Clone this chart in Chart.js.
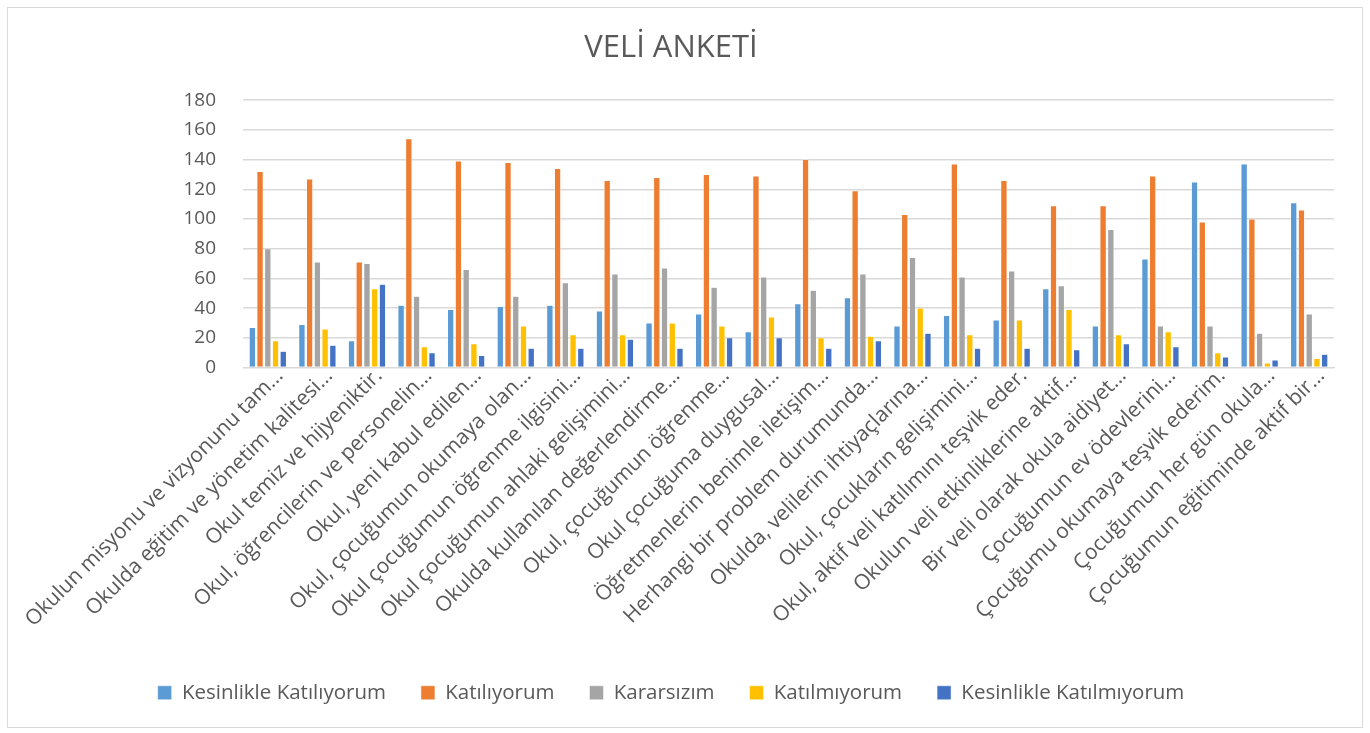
<!DOCTYPE html>
<html>
<head>
<meta charset="utf-8">
<script src="https://cdn.jsdelivr.net/npm/chart.js@4"></script>
<style>
  body { margin: 0; background: #fff; }
  #box { position: absolute; left: 7px; top: 7px; width: 1354px; height: 719px; border: 1px solid #d9d9d9; }
</style>
</head>
<body>
<div id="box"><canvas id="chart" width="1354" height="719"></canvas></div>
<script>
const categories = [
  "Okulun misyonu ve vizyonunu tam…",
  "Okulda eğitim ve yönetim kalitesi…",
  "Okul temiz ve hijyeniktir.",
  "Okul, öğrencilerin ve personelin…",
  "Okul, yeni kabul edilen…",
  "Okul, çocuğumun okumaya olan…",
  "Okul çocuğumun öğrenme ilgisini…",
  "Okul çocuğumun ahlaki gelişimini…",
  "Okulda kullanılan değerlendirme…",
  "Okul, çocuğumun öğrenme…",
  "Okul çocuğuma duygusal…",
  "Öğretmenlerin benimle iletişim…",
  "Herhangi bir problem durumunda…",
  "Okulda, velilerin ihtiyaçlarına…",
  "Okul, çocukların gelişimini…",
  "Okul, aktif veli katılımını teşvik eder.",
  "Okulun veli etkinliklerine aktif…",
  "Bir veli olarak okula aidiyet…",
  "Çocuğumun ev ödevlerini…",
  "Çocuğumu okumaya teşvik ederim.",
  "Çocuğumun her gün okula…",
  "Çocuğumun eğitiminde aktif bir…"
];

const kesinlikleKatiliyorum = [27, 29, 18, 42, 39, 41, 42, 38, 30, 36, 24, 43, 47, 28, 35, 32, 53, 28, 73, 125, 137, 111];
const katiliyorum = [132, 127, 71, 154, 139, 138, 134, 126, 128, 130, 129, 140, 119, 103, 137, 126, 109, 109, 129, 98, 100, 106];
const kararsizim = [80, 71, 70, 48, 66, 48, 57, 63, 67, 54, 61, 52, 63, 74, 61, 65, 55, 93, 28, 28, 23, 36];
const katilmiyorum = [18, 26, 53, 14, 16, 28, 22, 22, 30, 28, 34, 20, 21, 40, 22, 32, 39, 22, 24, 10, 3, 6];
const kesinlikleKatilmiyorum = [11, 15, 56, 10, 8, 13, 13, 19, 13, 20, 20, 13, 18, 23, 13, 13, 12, 16, 14, 7, 5, 9];

const yTicks = [0, 20, 40, 60, 80, 100, 120, 140, 160, 180];

const textColor = "#595959";
const gridColor = "#d9d9d9";
const font = "'Open Sans', 'DejaVu Sans', sans-serif";

function series(label, data, color) {
  return {
    label: label,
    data: data,
    backgroundColor: color,
    borderColor: "#ffffff",
    borderWidth: 0.5,
    barPercentage: 0.82,
    categoryPercentage: 0.78
  };
}

const ctx = document.getElementById("chart").getContext("2d");
const chart = new Chart(ctx, {
  type: "bar",
  data: {
    labels: categories,
    datasets: [
      series("Kesinlikle Katılıyorum", kesinlikleKatiliyorum, "#5b9bd5"),
      series("Katılıyorum", katiliyorum, "#ed7d31"),
      series("Kararsızım", kararsizim, "#a5a5a5"),
      series("Katılmıyorum", katilmiyorum, "#ffc000"),
      series("Kesinlikle Katılmıyorum", kesinlikleKatilmiyorum, "#4472c4")
    ]
  },
  options: {
    responsive: false,
    animation: false,
    layout: { padding: { left: 0, right: 28, top: 0, bottom: 14 } },
    plugins: {
      title: {
        display: true,
        text: "VELİ ANKETİ",
        color: textColor,
        font: { family: font, size: 31, weight: "normal" },
        padding: { top: 22, bottom: 33 }
      },
      legend: {
        position: "bottom",
        labels: {
          color: textColor,
          font: { family: font, size: 20.5 },
          boxWidth: 14,
          boxHeight: 14,
          padding: 35
        }
      },
      tooltip: { enabled: false }
    },
    scales: {
      x: {
        grid: { display: false },
        border: { color: gridColor, width: 1 },
        ticks: {
          color: textColor,
          font: { family: font, size: 21 },
          maxRotation: 45,
          minRotation: 45,
          autoSkip: false,
          padding: -12,
          labelOffset: 12
        },
        afterFit: (scale) => {
          scale.height = 280;
          scale.paddingLeft = 0;
          scale.paddingRight = 0;
        }
      },
      y: {
        min: 0,
        max: 180,
        afterBuildTicks: (scale) => {
          scale.ticks = yTicks.map((v) => ({ value: v }));
        },
        grid: { color: gridColor, lineWidth: 1.5, drawTicks: false },
        border: { display: false },
        ticks: {
          color: textColor,
          font: { family: font, size: 19 },
          padding: 27
        },
        afterFit: (scale) => {
          scale.width = 235;
        }
      }
    }
  }
});
</script>
</body>
</html>
